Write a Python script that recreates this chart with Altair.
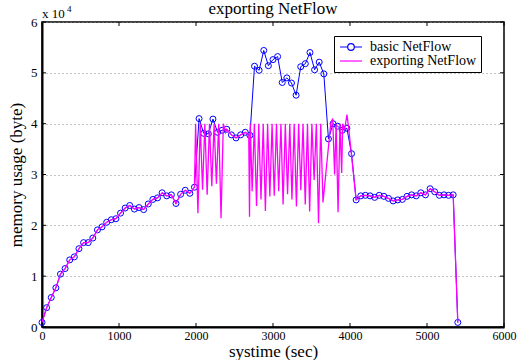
import altair as alt
import pandas as pd

# ---- data -------------------------------------------------------------
# basic NetFlow: memory usage (bytes) sampled every 60 s
basic_time = [
    0, 60, 120, 180, 240, 300, 360, 420, 480, 540, 600, 660, 720, 780, 840,
    900, 960, 1020, 1080, 1140, 1200, 1260, 1320, 1380, 1440, 1500, 1560,
    1620, 1680, 1740, 1800, 1860, 1920, 1980, 2040, 2100, 2160, 2220, 2280,
    2340, 2400, 2460, 2520, 2580, 2640, 2700, 2760, 2820, 2880, 2940, 3000,
    3060, 3120, 3180, 3240, 3300, 3360, 3420, 3480, 3540, 3600, 3660, 3720,
    3780, 3840, 3900, 3960, 4020, 4080, 4140, 4200, 4260, 4320, 4380, 4440,
    4500, 4560, 4620, 4680, 4740, 4800, 4860, 4920, 4980, 5040, 5100, 5160,
    5220, 5280, 5340, 5400,
]
basic_mem = [
    900, 3800, 5800, 7700, 10400, 11500, 13200, 13800, 15400, 16600, 16600,
    17500, 19100, 19700, 20600, 21100, 21300, 22400, 23400, 23900, 23200,
    23500, 23100, 24200, 25100, 25400, 26400, 25800, 26000, 24300, 26100,
    26900, 26300, 27500, 41000, 38100, 38000, 40900, 38300, 38700, 38900,
    37800, 37200, 37800, 38300, 37700, 51300, 50500, 54400, 51400, 52600,
    53200, 48100, 49000, 48000, 45600, 51200, 51800, 54000, 50600, 52100,
    49800, 37000, 40000, 39500, 38700, 39100, 34100, 25000, 25800, 25900,
    25800, 25500, 25900, 25700, 25300, 24800, 25000, 25100, 25700, 26000,
    25800, 26400, 26000, 27200, 26600, 25900, 26000, 25900, 26000, 900,
]

# exporting NetFlow: identical to basic before ~2000 s and after ~4080 s,
# oscillating against the 40000-byte ceiling in between
export_mid_time = [
    1995, 2025, 2055, 2085, 2115, 2145, 2175, 2205, 2235, 2265, 2295, 2325,
    2355, 2385, 2400, 2460, 2520, 2580, 2640, 2685, 2695, 2705, 2729, 2758,
    2786, 2815, 2844, 2873, 2901, 2930, 2959, 2988, 3016, 3045, 3074, 3103,
    3131, 3160, 3189, 3218, 3246, 3275, 3304, 3333, 3361, 3390, 3419, 3448,
    3476, 3505, 3534, 3563, 3591, 3620, 3649, 3750, 3775, 3800, 3820, 3845,
    3870, 3892, 3905, 3930, 3960, 3980,
]
export_mid_mem = [
    40000, 22400, 40000, 27000, 40000, 26000, 40000, 27700, 40000, 28200,
    40000, 21400, 40000, 38300, 38900, 37800, 37200, 37800, 38300, 37700,
    21700, 40000, 26700, 40000, 23800, 40000, 25100, 40000, 22800, 40000,
    25700, 40000, 25800, 40000, 26700, 40000, 24100, 40000, 26100, 40000,
    25100, 40000, 23700, 40000, 26900, 40000, 24100, 40000, 22700, 40000,
    28900, 40000, 20400, 40000, 24500, 40000, 41000, 30000, 40000, 22600,
    40000, 30300, 40000, 38800, 41800, 39500,
]

x_ticks = [0, 1000, 2000, 3000, 4000, 5000, 6000]
y_ticks = [0, 10000, 20000, 30000, 40000, 50000, 60000]

series_names = ["basic NetFlow", "exporting NetFlow"]
series_colors = ["#0000ff", "#ff00ff"]

# ---- tables -----------------------------------------------------------
basic_df = pd.DataFrame({"t": basic_time, "mem": basic_mem})
export_df = pd.DataFrame({
    "t": basic_time[:34] + export_mid_time + basic_time[68:],
    "mem": basic_mem[:34] + export_mid_mem + basic_mem[68:],
})
xt_df = pd.DataFrame({"t": x_ticks})
yt_df = pd.DataFrame({"mem": y_ticks})
legend_df = pd.DataFrame({"series": series_names, "t": [0, 0], "mem": [0, 0]})

# ---- styling ----------------------------------------------------------
W, H = 462, 305
FONT = "Liberation Serif"
TICK = 4

x_scale = alt.Scale(domain=[0, 6000], nice=False, zero=False)
y_scale = alt.Scale(domain=[0, 60000], nice=False, zero=False)

x_enc = alt.X(
    "t:Q", scale=x_scale,
    axis=alt.Axis(values=x_ticks, format="d", title="systime (sec)", grid=False,
                  tickSize=0, labelPadding=3, labelFontSize=12,
                  titleFontSize=17, titleBaseline="alphabetic", titleY=29,
                  labelFlush=False),
)
y_enc = alt.Y(
    "mem:Q", scale=y_scale,
    axis=alt.Axis(values=y_ticks, title="memory usage (byte)",
                  labelExpr="datum.value / 10000", grid=True,
                  gridDash=[1, 3], gridColor="#888888", gridWidth=1,
                  tickSize=0, labelPadding=5, labelFontSize=13,
                  titleFontSize=17, titlePadding=5),
)

base = alt.Chart(basic_df)

basic_line = base.mark_line(color=series_colors[0], strokeWidth=1).encode(x=x_enc, y=y_enc)
basic_pts = base.mark_point(shape="circle", filled=False, color=series_colors[0],
                            size=36, strokeWidth=1, opacity=1).encode(x=x_enc, y=y_enc)
export_line = alt.Chart(export_df).mark_line(color=series_colors[1], strokeWidth=1.3).encode(
    x=x_enc, y=y_enc)

# legend symbols: a line with a hollow circle, and a plain line
sym_basic = "M-2,0H-0.6M0.6,0H2M0.6,0A0.6,0.6,0,1,1,-0.6,0A0.6,0.6,0,1,1,0.6,0Z"
sym_export = "M-2,0H2"
leg = alt.Legend(
    title=None, orient="none", legendX=292, legendY=14,
    labelFont=FONT, labelFontSize=14, labelColor="black",
    symbolSize=121, symbolStrokeWidth=1.2, symbolOpacity=1,
    symbolOffset=6, labelOffset=12, padding=4, rowPadding=0,
    strokeColor="black", fillColor="white",
)
legend_layer = alt.Chart(legend_df).mark_point(filled=False, opacity=0).encode(
    x=x_enc, y=y_enc,
    color=alt.Color("series:N", scale=alt.Scale(domain=series_names, range=series_colors), legend=leg),
    shape=alt.Shape("series:N", scale=alt.Scale(domain=series_names, range=[sym_basic, sym_export]), legend=leg),
)

# inward tick marks on all four sides
tick_style = dict(color="black", strokeWidth=1)
xt = alt.Chart(xt_df)
yt = alt.Chart(yt_df)
ticks = [
    xt.mark_rule(**tick_style).encode(x=x_enc, y=alt.value(H), y2=alt.value(H - TICK)),
    xt.mark_rule(**tick_style).encode(x=x_enc, y=alt.value(0), y2=alt.value(TICK)),
    yt.mark_rule(**tick_style).encode(y=y_enc, x=alt.value(0), x2=alt.value(TICK)),
    yt.mark_rule(**tick_style).encode(y=y_enc, x=alt.value(W), x2=alt.value(W - TICK)),
]

# axis multiplier above the y axis
mult = alt.Chart(legend_df.head(1)).mark_text(
    text="x 10", font=FONT, fontSize=13, align="left", baseline="alphabetic"
).encode(x=alt.value(0), y=alt.value(-4))
mult_exp = alt.Chart(legend_df.head(1)).mark_text(
    text="4", font=FONT, fontSize=9, align="left", baseline="alphabetic"
).encode(x=alt.value(25), y=alt.value(-10))

chart = alt.layer(
    *ticks, basic_line, basic_pts, export_line, legend_layer, mult, mult_exp
).properties(
    width=W, height=H,
    title=alt.TitleParams("exporting NetFlow", font=FONT, fontSize=17,
                          fontWeight="normal", offset=0, dy=13, color="black",
                          frame="group", anchor="middle"),
    padding={"left": 42, "top": 22, "right": 28, "bottom": 33},
    autosize=alt.AutoSizeParams(type="none"),
    background="white",
).configure_view(
    stroke="black", strokeWidth=1.5
).configure_axis(
    labelFont=FONT, titleFont=FONT, labelColor="black", titleColor="black",
    titleFontWeight="normal", domainColor="black", domainWidth=2,
)

chart.save("out.html", embed_options={"renderer": "svg", "actions": False})
